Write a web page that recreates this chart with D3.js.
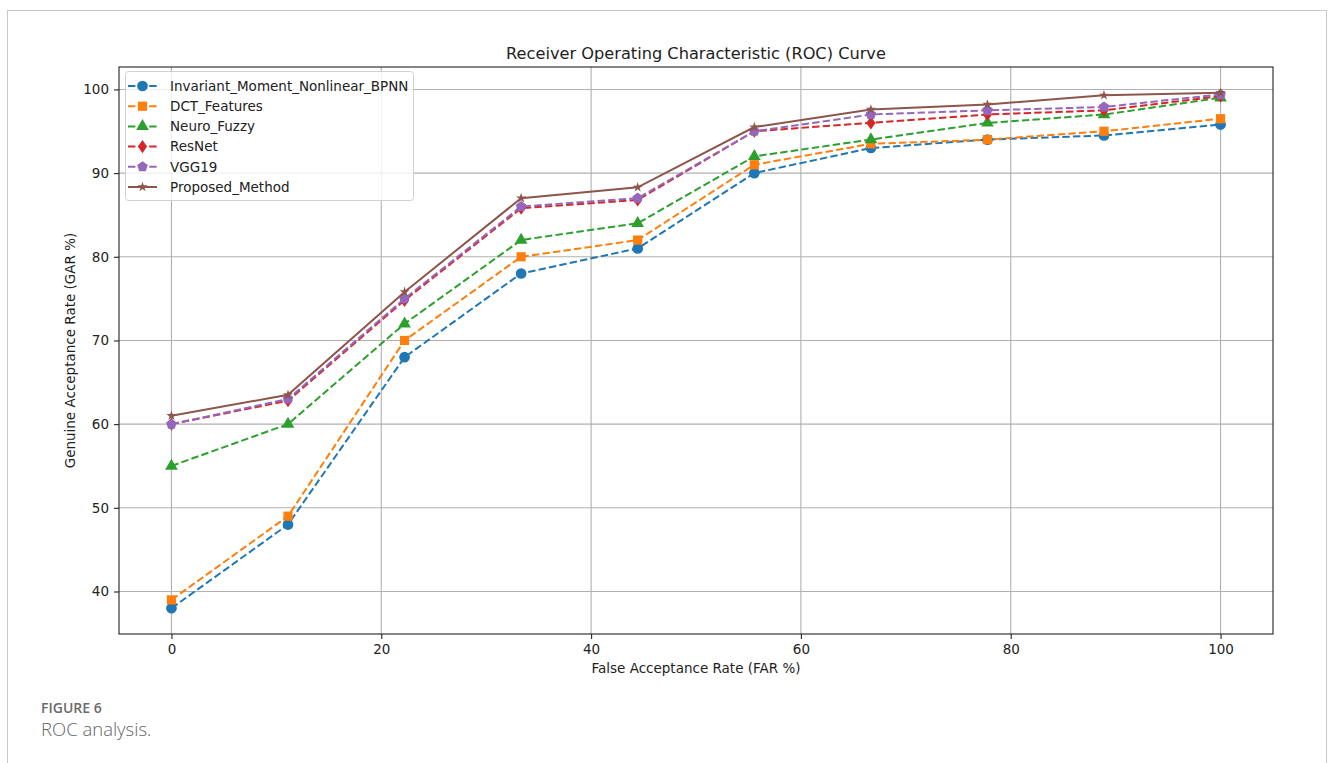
<!DOCTYPE html>
<html><head><meta charset="utf-8">
<script src="https://cdn.jsdelivr.net/npm/d3@7"></script>
<style>
html,body{margin:0;padding:0;background:#fff;}
svg{display:block;}
</style></head>
<body>
<svg id="chart" width="1333" height="763"></svg>
<script>
const far = [0, 11.11, 22.22, 33.33, 44.44, 55.56, 66.67, 77.78, 88.89, 100];
const seriesNames = ["Invariant_Moment_Nonlinear_BPNN","DCT_Features","Neuro_Fuzzy","ResNet","VGG19","Proposed_Method"];
const bpnn     = [38, 48, 68, 78, 81, 90, 93, 94, 94.5, 95.8];
const dct      = [39, 49, 70, 80, 82, 91, 93.5, 94, 95, 96.5];
const neuro    = [55, 60, 72, 82, 84, 92, 94, 96, 97, 99];
const resnet   = [60, 62.8, 74.8, 85.8, 86.8, 95, 96, 97, 97.5, 99.2];
const vgg19    = [60, 63, 75, 86, 87, 95, 97, 97.5, 97.9, 99.4];
const proposed = [61, 63.5, 75.8, 87, 88.3, 95.5, 97.6, 98.2, 99.3, 99.6];
const xTicks = [0, 20, 40, 60, 80, 100];
const yTicks = [40, 50, 60, 70, 80, 90, 100];
const colors = ["#1f77b4","#ff7f0e","#2ca02c","#d62728","#9467bd","#8c564b"];
const markers = ["circle","square","triangle","diamond","pentagon","star"];
const dashed = [true,true,true,true,true,false];
const allSeries = [bpnn, dct, neuro, resnet, vgg19, proposed];

const svg = d3.select("#chart");
const font = "'DejaVu Sans', sans-serif";

// outer frame
svg.append("rect").attr("x",7.5).attr("y",10.5).attr("width",1319).attr("height",800)
  .attr("fill","none").attr("stroke","#c8c8c8").attr("stroke-width",1);

const L=119, R=1273, T=67, B=634;
const allY = allSeries.flat();
const ymin = d3.min(allY), ymax = d3.max(allY);
const ypad = (ymax-ymin)*0.05;
const x = d3.scaleLinear().domain([-5, 105]).range([L, R]);
const y = d3.scaleLinear().domain([ymin-ypad, ymax+ypad]).range([B, T]);

// grid
const g = svg.append("g");
g.selectAll(".gx").data(xTicks).enter().append("line")
  .attr("x1",d=>x(d)).attr("x2",d=>x(d)).attr("y1",T).attr("y2",B)
  .attr("stroke","#b0b0b0").attr("stroke-width",1.1);
g.selectAll(".gy").data(yTicks).enter().append("line")
  .attr("y1",d=>y(d)).attr("y2",d=>y(d)).attr("x1",L).attr("x2",R)
  .attr("stroke","#b0b0b0").attr("stroke-width",1.1);

// axes
const xAxis = svg.append("g").attr("transform",`translate(0,${B})`)
  .call(d3.axisBottom(x).tickValues(xTicks).tickSize(5).tickPadding(5).tickFormat(d3.format("d")));
const yAxis = svg.append("g").attr("transform",`translate(${L},0)`)
  .call(d3.axisLeft(y).tickValues(yTicks).tickSize(5).tickPadding(5).tickFormat(d3.format("d")));
[xAxis,yAxis].forEach(a=>{
  a.select(".domain").remove();
  a.selectAll("text").attr("font-family",font).attr("font-size",13.5).attr("fill","#222");
  a.selectAll("line").attr("stroke","#222").attr("stroke-width",1.1);
});

// series
const line = d3.line().x((d,i)=>x(far[i])).y(d=>y(d));
const symType = {circle:d3.symbolCircle, square:d3.symbolSquare, triangle:d3.symbolTriangle,
  diamond:d3.symbolDiamond, star:d3.symbolStar};
function drawMarker(sel, m, cx, cy, color){
  if(m==="pentagon"){
    const r=5.6; const pts=[];
    for(let k=0;k<5;k++){const a=-Math.PI/2+k*2*Math.PI/5; pts.push([cx+r*Math.cos(a), cy+r*Math.sin(a)]);}
    sel.append("polygon").attr("points",pts.map(p=>p.join(",")).join(" ")).attr("fill",color);
  } else if(m==="diamond"){
    const w=4.6,h=6.6;
    sel.append("polygon").attr("points",`${cx},${cy-h} ${cx+w},${cy} ${cx},${cy+h} ${cx-w},${cy}`).attr("fill",color);
  } else {
    const sizes={circle:90, square:85, triangle:70, star:32};
    sel.append("path").attr("d",d3.symbol().type(symType[m]).size(sizes[m])())
      .attr("transform",`translate(${cx},${cy})`).attr("fill",color);
  }
}
allSeries.forEach((s,k)=>{
  const gg = svg.append("g");
  gg.append("path").datum(s).attr("d",line).attr("fill","none")
    .attr("stroke",colors[k]).attr("stroke-width",2)
    .attr("stroke-dasharray",dashed[k]?"7.4,3.2":null);
  s.forEach((v,i)=>drawMarker(gg, markers[k], x(far[i]), y(v), colors[k]));
});

// spines
svg.append("rect").attr("x",L).attr("y",T).attr("width",R-L).attr("height",B-T)
  .attr("fill","none").attr("stroke","#222").attr("stroke-width",1.1);

// legend
const lg = svg.append("g");
lg.append("rect").attr("x",125.5).attr("y",71.5).attr("width",288).attr("height",129)
  .attr("rx",3).attr("fill","#fff").attr("fill-opacity",0.8).attr("stroke","#d0d0d0");
seriesNames.forEach((n,k)=>{
  const yy = 86 + k*20.2;
  lg.append("line").attr("x1",128).attr("x2",157).attr("y1",yy).attr("y2",yy)
    .attr("stroke",colors[k]).attr("stroke-width",2).attr("stroke-dasharray",dashed[k]?"7.4,3.2":null);
  drawMarker(lg, markers[k], 142.5, yy, colors[k]);
  lg.append("text").attr("x",170).attr("y",yy).attr("dy","0.35em")
    .attr("font-family",font).attr("font-size",13.5).attr("fill","#222").text(n);
});

// title and labels
svg.append("text").attr("x",(L+R)/2).attr("y",59).attr("text-anchor","middle")
  .attr("font-family",font).attr("font-size",16.2).attr("fill","#222")
  .text("Receiver Operating Characteristic (ROC) Curve");
svg.append("text").attr("x",(L+R)/2).attr("y",673).attr("text-anchor","middle")
  .attr("font-family",font).attr("font-size",13.5).attr("fill","#222")
  .text("False Acceptance Rate (FAR %)");
svg.append("text").attr("transform",`translate(75,${(T+B)/2}) rotate(-90)`).attr("text-anchor","middle")
  .attr("font-family",font).attr("font-size",13.5).attr("fill","#222")
  .text("Genuine Acceptance Rate (GAR %)");

// caption
svg.append("text").attr("x",41).attr("y",713).attr("font-family","'Open Sans', sans-serif")
  .attr("font-size",14).attr("font-weight",600).attr("fill","#6a6a6a").text("FIGURE 6");
svg.append("text").attr("x",41).attr("y",736).attr("font-family","'Open Sans', sans-serif")
  .attr("font-size",18.5).attr("font-weight",300).attr("fill","#666").text("ROC analysis.");
</script>
</body></html>
